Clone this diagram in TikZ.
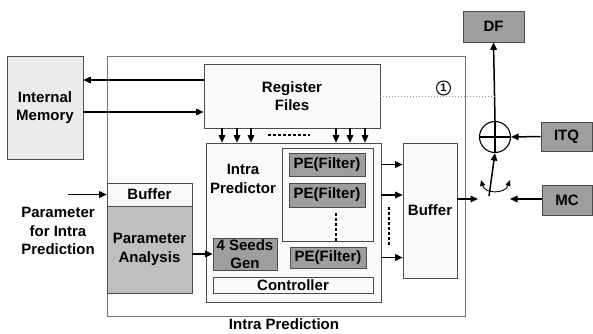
\documentclass[tikz,border=0pt]{standalone}
\usepackage{fontspec}
\setmainfont{Liberation Sans}
\usetikzlibrary{arrows.meta}
\newcommand\mybox[7]{\node[#1,minimum width={(#5-#3)*1pt},minimum height={(#6-#4)*1pt}] (#2) at ({(#3+#5)/2},{(#4+#6)/2}) {#7};}
\begin{document}
\begin{tikzpicture}[x=1pt,y=-1pt,
  font=\bfseries\fontsize{15}{18.5}\selectfont,
  blk/.style={draw=black!70,line width=0.6pt,inner sep=0pt,align=center},
  dark/.style={blk,fill=black!38},
  mid/.style={blk,fill=black!25},
  light/.style={blk,fill=black!8},
  pale/.style={blk,fill=black!2},
  arr/.style={-{Triangle[length=7.5pt,width=6.5pt]},line width=1.5pt},
  dsh/.style={line width=1.5pt,dash pattern=on 3pt off 2pt}]
\useasboundingbox (0,0) rectangle (593,333);
% outer block
\mybox{draw=black!55,line width=0.6pt,inner sep=0pt}{outer}{107}{56}{465}{316}{}
\node[anchor=base] (outerlbl) at (284,329.5) {Intra Prediction};
% internal memory
\mybox{light}{mem}{7}{56}{83}{159}{Internal\\Memory}
% register files
\mybox{pale}{reg}{204}{64}{380}{128}{Register\\Files}
% intra predictor
\mybox{pale}{ip}{206}{143}{381}{302}{}
\node[align=center] (iptxt) at (243,179) {Intra\\Predictor};
\mybox{blk}{grp}{282}{148}{373}{241}{}
\mybox{dark}{pe1}{289}{153}{365}{176}{PE(Filter)}
\mybox{dark}{pe2}{289}{183}{365}{207}{PE(Filter)}
\mybox{dark}{pe3}{290}{247}{366}{268}{PE(Filter)}
\mybox{dark}{seeds}{213}{238}{277}{270}{4 Seeds\\Gen}
\mybox{pale}{ctrl}{213}{277}{373}{293}{Controller}
% left buffer / parameter analysis
\mybox{pale}{lbuf}{107}{183}{192}{206}{Buffer}
\mybox{mid}{pa}{107}{206}{192}{293}{Parameter\\Analysis}
\node[align=center] (ptxt) at (58,231) {Parameter\\for Intra\\Prediction};
% right buffer
\mybox{pale}{rbuf}{403}{143}{457}{278}{Buffer}
% outside blocks
\mybox{dark}{df}{463}{11}{524}{42}{DF}
\mybox{dark}{itq}{541}{122}{592}{151}{ITQ}
\mybox{dark}{mc}{542}{185}{592}{215}{MC}
\node[draw,line width=1.1pt,circle,minimum size=31pt,inner sep=0pt] (add) at (495,137) {};
\draw[line width=1.1pt] (add.north) -- (add.south) (add.west) -- (add.east);
\node[draw,line width=1pt,circle,minimum size=14pt,inner sep=0pt,font=\bfseries\fontsize{11}{11}\selectfont] (one) at (443.5,88) {1};
% coordinates
\coordinate (y80) at (0,80);
\coordinate (y112) at (0,112);
\coordinate (pin) at (68,194.5);
\coordinate (swin) at (478,199);
\coordinate (mcout) at (510,199);
\coordinate (bufout) at (457,199);
\coordinate (swbot) at (489,196);
\coordinate (cl) at (481,180);
\coordinate (cr) at (510,180);
% connectors
\draw[arr] (reg.west |- y80) -- (mem.east |- y80);
\draw[arr] (mem.east |- y112) -- (reg.west |- y112);
\draw[arr] (pin) -- (lbuf.west);
\draw[arr] (pa.east |- seeds.west) -- (seeds.west);
\foreach \xx in {222,237,251,336,350,365}{
  \coordinate (dx) at (\xx,0);
  \draw[arr] (reg.south -| dx) -- (ip.north -| dx);
}
\coordinate (d1) at (268,135); \coordinate (d2) at (310,135);
\draw[dsh] (d1) -- (d2);
\draw[arr] (ip.east |- pe1) -- (rbuf.west |- pe1);
\draw[arr] (ip.east |- pe2) -- (rbuf.west |- pe2);
\draw[arr] (ip.east |- pe3) -- (rbuf.west |- pe3);
\coordinate (v1) at (389,207); \coordinate (v2) at (389,247);
\draw[dsh] (v1) -- (v2);
\coordinate (g1) at (336,213);
\draw[dsh] (g1) -- (grp.south -| g1);
\draw[arr] (bufout) -- (swin);
\draw[arr] (mc.west |- mcout) -- (mcout);
\draw[arr] (swbot) -- (add.south);
\draw[{Triangle[length=6pt,width=5pt]}-{Triangle[length=6pt,width=5pt]},line width=0.9pt] (cl) .. controls (485,194) and (505,194) .. (cr);
\draw[arr] (itq.west) -- (add.east);
\draw[arr] (add.north) -- (df.south);
\draw[black!40,line width=1pt,dotted] (reg.east) -- (add.north |- reg.east);
\end{tikzpicture}
\end{document}
